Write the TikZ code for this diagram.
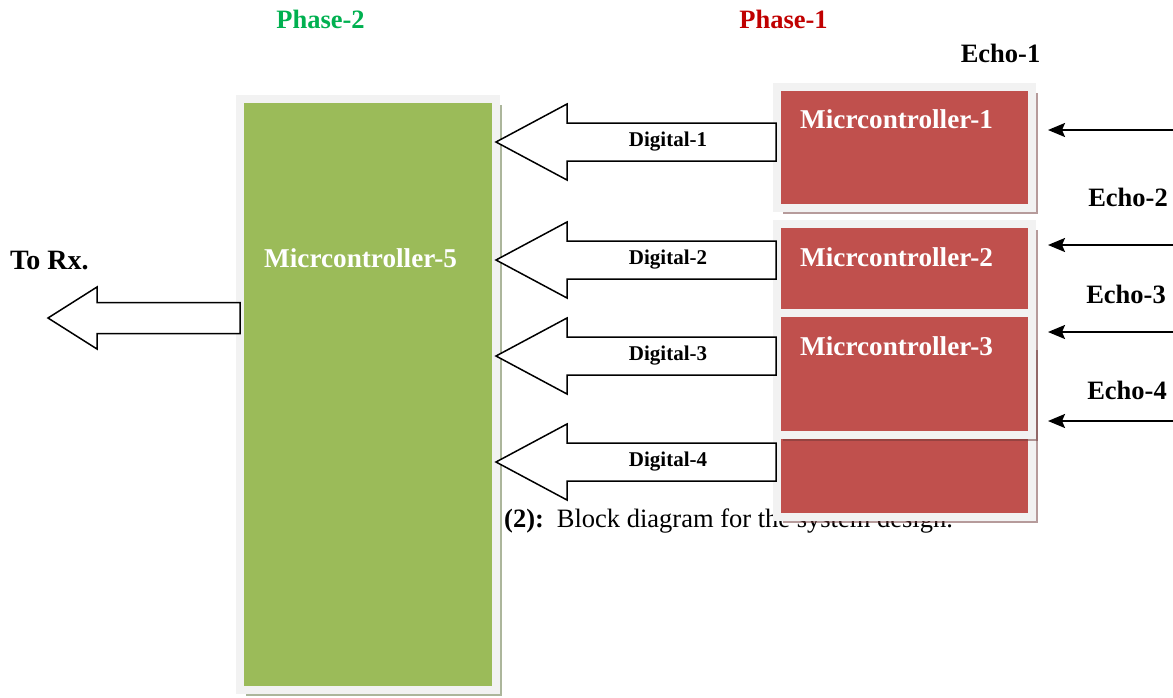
\documentclass[tikz,border=0pt]{standalone}
\usepackage{fontspec}
\setmainfont{Liberation Serif}
\usetikzlibrary{calc,shadows,arrows.meta}
\definecolor{mcred}{RGB}{192,80,77}
\definecolor{mcgreen}{RGB}{155,187,89}
\definecolor{framegrey}{RGB}{242,242,242}
\definecolor{shadowred}{RGB}{110,55,55}
\definecolor{shadowgreen}{RGB}{90,110,55}
\definecolor{phasegreen}{RGB}{0,176,80}
\definecolor{phasered}{RGB}{192,0,0}

\tikzset{
  mcbox/.style={draw=framegrey,line width=8pt,inner sep=0pt,outer sep=0pt,minimum width=255pt},
  redbox/.style={mcbox,fill=mcred,drop shadow={shadow xshift=6pt,shadow yshift=-6pt,fill=shadowred,opacity=0.5}},
  greenbox/.style={mcbox,fill=mcgreen,minimum width=256pt,drop shadow={shadow xshift=6pt,shadow yshift=-6pt,fill=shadowgreen,opacity=0.5}},
  mclabel/.style={text=white,font=\fontsize{27.2}{30}\selectfont\bfseries,inner sep=0pt,anchor=base west},
  bigtext/.style={font=\fontsize{26.5}{30}\selectfont\bfseries,inner sep=0pt,anchor=base},
  digtext/.style={font=\fontsize{21}{24}\selectfont\bfseries,inner sep=0pt},
  blkarr/.style={draw=black,fill=white,line width=1.5pt,line join=miter},
  echoarr/.style={line width=2pt,-{Stealth[length=17pt,width=14pt,inset=3pt]}},
}

% tip, tail, head length, head half-height, shaft half-height
\newcommand\blkarrow[5]{%
  \draw[blkarr] (#1) -- ++(#3,-#4) -- ++(0,#4-#5) -- ($(#2)+(0,-#5)$)
    -- ($(#2)+(0,#5)$) -- ($(#1)+(#3,#5)$) -- ($(#1)+(#3,#4)$) -- cycle;}

\begin{document}
\begin{tikzpicture}[x=1pt,y=-1pt]
  \useasboundingbox (0,0) rectangle (1173,697);

  % phase 2
  \node[greenbox,minimum height=591pt] (mc5) at (368,394.5) {};

  % phase 1
  \node[redbox,minimum height=121pt] (mc1) at (904.5,147.5) {};
  \node[redbox,minimum height=89pt] (mc2) at (904.5,268.5) {};
  \node[anchor=base west,inner sep=0pt,font=\fontsize{26.5}{30}\selectfont] (cap) at (504,527)
    {\textbf{(2):}\hspace{13pt}Block diagram for the system design.};
  \node[redbox,minimum height=173pt] (mc4) at (904.5,430.5) {};
  \node[redbox,minimum height=122pt] (mc3) at (904.5,374) {};

  \node[mclabel] (l1) at ($(mc1.north west)+(23,41)$) {Micrcontroller-1};
  \node[mclabel] (l2) at ($(mc2.north west)+(23,42)$) {Micrcontroller-2};
  \node[mclabel] (l3) at ($(mc3.north west)+(23,42)$) {Micrcontroller-3};
  \node[mclabel] (l5) at (264,267) {Micrcontroller-5};

  \node[bigtext,text=phasegreen] (ph2) at (320.5,28) {Phase-2};
  \node[bigtext,text=phasered] (ph1) at (783.5,28) {Phase-1};

  %digital links
  \foreach \i/\y in {1/142,2/260,3/356,4/462}{
    \coordinate (tip\i) at (496,\y);
    \coordinate (tail\i) at (776,\y);
    \blkarrow{tip\i}{tail\i}{71}{38}{19}
    \node[digtext] (dig\i) at ($(tip\i)!0.5!(tail\i)+(32,0)$) {Digital-\i};
  }

  %output
  \coordinate (rxtip) at (48,318);
  \coordinate (rxtail) at (mc5.west |- rxtip);
  \blkarrow{rxtip}{rxtail}{49}{31}{15.5}
  \node[bigtext,anchor=base west,font=\fontsize{28}{30}\selectfont\bfseries] (rx) at (10,269) {To Rx.};

  %echoes
  \foreach \i/\y in {1/130,2/245,3/332,4/421}{
    \coordinate (es\i) at (1173,\y);
    \coordinate (et\i) at (1048,\y);
    \draw[echoarr] (es\i) -- (et\i);
  }
  \node[bigtext] (ec1) at (1000.5,62) {Echo-1};
  \node[bigtext] (ec2) at (1128,206) {Echo-2};
  \node[bigtext] (ec3) at (1126,303) {Echo-3};
  \node[bigtext] (ec4) at (1127,399) {Echo-4};
\end{tikzpicture}
\end{document}
